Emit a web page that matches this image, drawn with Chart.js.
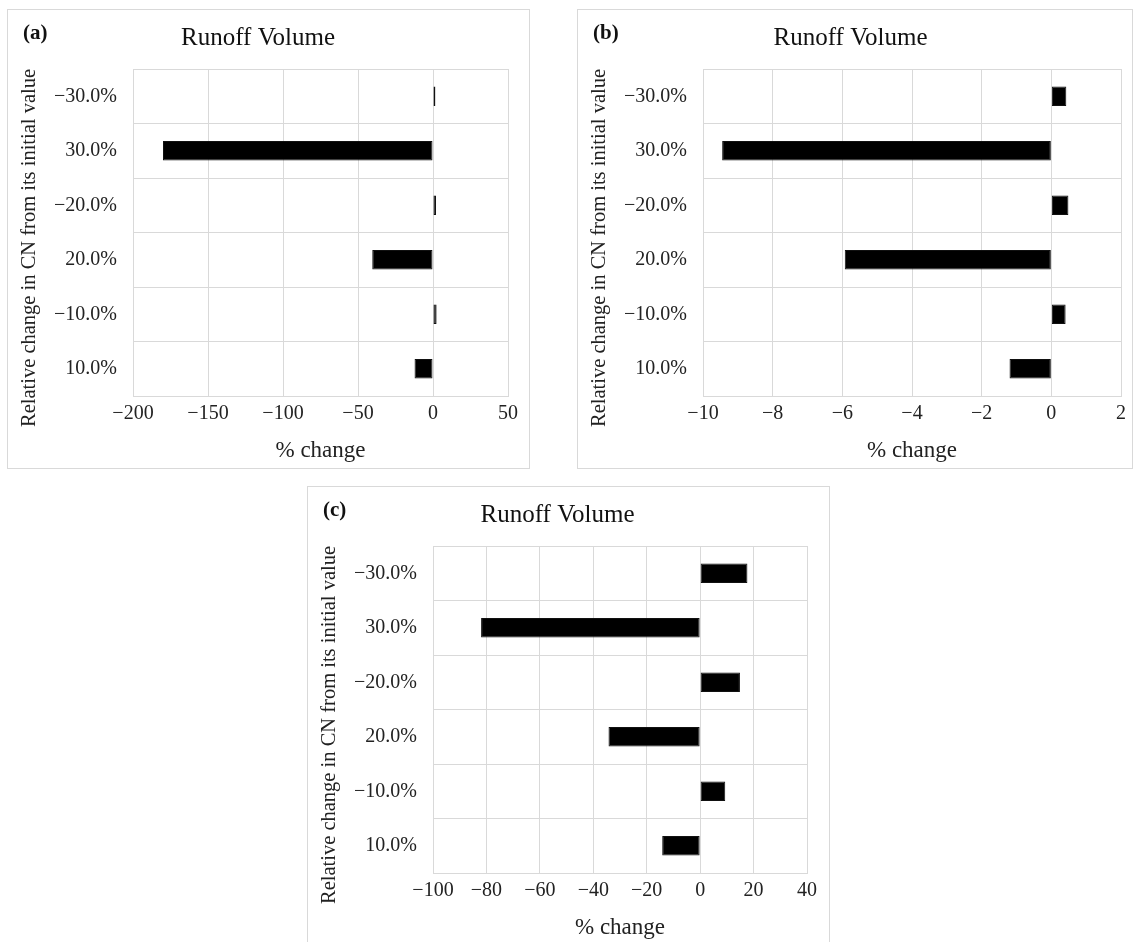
<!DOCTYPE html>
<html>
<head>
<meta charset="utf-8">
<script src="https://cdn.jsdelivr.net/npm/chart.js@4.4.1/dist/chart.umd.min.js"></script>
<style>
  body { margin: 0; background: #fff; width: 1134px; height: 942px; overflow: hidden; position: relative;
         font-family: "Liberation Serif", "Times New Roman", serif; }
  .panel { position: absolute; border: 1px solid #d9d9d9; background: #fff; }
  .panel canvas { position: absolute; left: 0; top: 0; }
  .tag { position: absolute; left: 15px; top: 12px; font-size: 21px; line-height: 21px; font-weight: bold; color: #111; }
  .ytitle { position: absolute; left: 20px; top: 238px; width: 440px; text-align: center; font-size: 20.5px;
            line-height: 21px; color: #222; white-space: nowrap; transform: translate(-50%, -50%) rotate(-90deg); }
</style>
</head>
<body>

<div class="panel" style="left:7px; top:9px; width:521px; height:458px;">
  <canvas id="chartA" width="521" height="458"></canvas>
  <div class="tag">(a)</div>
  <div class="ytitle">Relative change in CN from its initial value</div>
</div>

<div class="panel" style="left:577px; top:9px; width:554px; height:458px;">
  <canvas id="chartB" width="554" height="458"></canvas>
  <div class="tag">(b)</div>
  <div class="ytitle">Relative change in CN from its initial value</div>
</div>

<div class="panel" style="left:307px; top:486px; width:521px; height:458px;">
  <canvas id="chartC" width="521" height="458"></canvas>
  <div class="tag">(c)</div>
  <div class="ytitle">Relative change in CN from its initial value</div>
</div>

<script>
// relative change in CN, top to bottom
const cnLabels = ['−30.0%', '30.0%', '−20.0%', '20.0%', '−10.0%', '10.0%'];

// % change in runoff volume for each panel
const volumeA = [1.6, -180, 2.0, -40.5, 2.4, -12.3];
const volumeB = [0.43, -9.45, 0.49, -5.93, 0.41, -1.2];
const volumeC = [17.7, -82, 14.9, -34.3, 9.4, -14.2];

// x axis: min, max, step
const axisA = [-200, 50, 50];
const axisB = [-10, 2, 2];
const axisC = [-100, 40, 20];

const serif = '"Liberation Serif", "Times New Roman", serif';
const gridColor = '#d9d9d9';

function fmtTick(v) {
    return v < 0 ? '−' + Math.abs(v) : String(v);
}

function makeChart(id, values, axis, padRight) {
    return new Chart(document.getElementById(id), {
        type: 'bar',
        data: {
            labels: cnLabels,
            datasets: [{
                data: values,
                backgroundColor: '#000',
                borderColor: '#111',
                borderWidth: 1,
                borderSkipped: false,
                categoryPercentage: 1,
                barPercentage: 0.36
            }]
        },
        options: {
            indexAxis: 'y',
            responsive: false,
            animation: false,
            layout: { padding: { left: 0, right: padRight, top: 0, bottom: 0 } },
            plugins: {
                legend: { display: false },
                tooltip: { enabled: false },
                title: {
                    display: true,
                    text: 'Runoff Volume',
                    color: '#111',
                    font: { family: serif, size: 25, weight: 'normal' },
                    padding: { top: 13, bottom: 16 }
                }
            },
            scales: {
                x: {
                    min: axis[0],
                    max: axis[1],
                    ticks: {
                        stepSize: axis[2],
                        color: '#222',
                        font: { family: serif, size: 20 },
                        padding: 6,
                        maxRotation: 0,
                        callback: fmtTick
                    },
                    grid: { color: gridColor, drawTicks: false },
                    border: { color: gridColor },
                    title: {
                        display: true,
                        text: '% change',
                        color: '#222',
                        font: { family: serif, size: 23 },
                        padding: { top: 0, bottom: 3 }
                    },
                    afterFit: function (scale) { scale.height = 72; }
                },
                y: {
                    ticks: {
                        color: '#222',
                        font: { family: serif, size: 20 },
                        padding: 16
                    },
                    grid: { color: gridColor, drawTicks: false },
                    border: { color: gridColor },
                    afterFit: function (scale) { scale.width = 125; }
                }
            }
        }
    });
}

makeChart('chartA', volumeA, axisA, 21);
makeChart('chartB', volumeB, axisB, 9);
makeChart('chartC', volumeC, axisC, 22);
</script>
</body>
</html>
